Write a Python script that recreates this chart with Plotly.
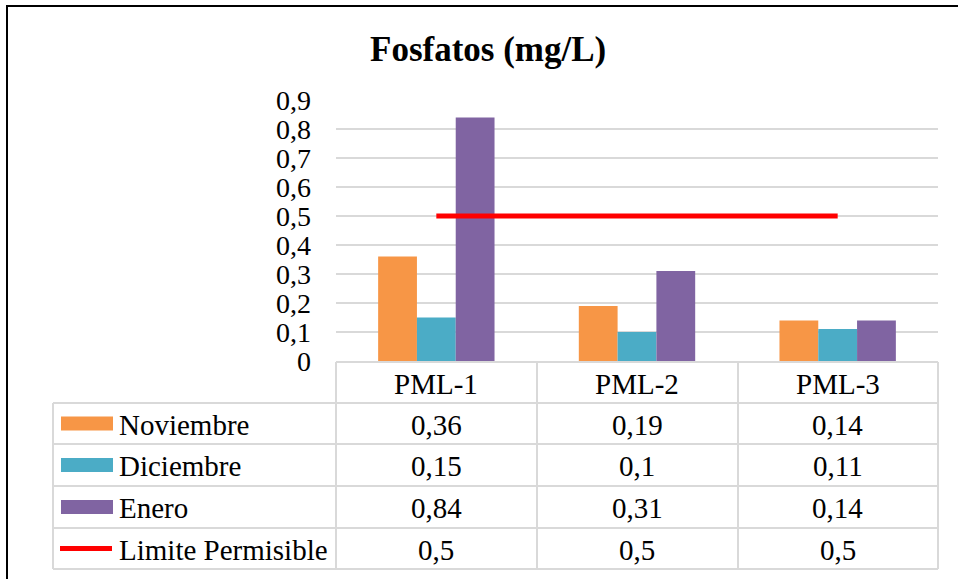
import plotly.graph_objects as go

categories = ["PML-1", "PML-2", "PML-3"]
noviembre = [0.36, 0.19, 0.14]
diciembre = [0.15, 0.10, 0.11]
enero = [0.84, 0.31, 0.14]
limite = [0.5, 0.5, 0.5]
series_names = ["Noviembre", "Diciembre", "Enero", "Limite Permisible"]
y_ticks = [0, 0.1, 0.2, 0.3, 0.4, 0.5, 0.6, 0.7, 0.8, 0.9]
title_text = "Fosfatos (mg/L)"

W, H = 958, 579
colors = ["#F79646", "#4BACC6", "#8064A2", "#FF0000"]
FONT = "Liberation Serif, Times New Roman, serif"
GRID = "#D9D9D9"

def px(x):
    return x / W

def py(y):
    return 1 - y / H

plot_l, plot_r = 336, 938
plot_t, plot_b = 100, 361

fig = go.Figure()
for name, vals, c in zip(series_names[:3], [noviembre, diciembre, enero], colors[:3]):
    fig.add_trace(go.Bar(x=categories, y=vals, name=name, marker_color=c,
                         marker_line_width=0, showlegend=False))
fig.add_trace(go.Scatter(x=categories, y=limite, mode="lines", name=series_names[3],
                         line=dict(color=colors[3], width=5), showlegend=False))

shapes = []
# outer black border (only left/top visible)
shapes.append(dict(type="rect", xref="paper", yref="paper",
                   x0=px(7), x1=px(W + 20), y0=py(H + 20), y1=py(6),
                   line=dict(color="black", width=2)))

# table grid
row_y = [403, 444, 486, 528, 569]
col_x = [336, 537, 738, 938]
lw = 2
shapes.append(dict(type="line", xref="paper", yref="paper", x0=px(336), x1=px(938),
                   y0=py(362), y1=py(362), line=dict(color=GRID, width=lw)))
for y in row_y:
    shapes.append(dict(type="line", xref="paper", yref="paper", x0=px(53), x1=px(938),
                       y0=py(y), y1=py(y), line=dict(color=GRID, width=lw)))
for x in col_x:
    shapes.append(dict(type="line", xref="paper", yref="paper", x0=px(x), x1=px(x),
                       y0=py(362), y1=py(569), line=dict(color=GRID, width=lw)))
shapes.append(dict(type="line", xref="paper", yref="paper", x0=px(53), x1=px(53),
                   y0=py(403), y1=py(569), line=dict(color=GRID, width=lw)))

annotations = []
annotations.append(dict(text="<b>" + title_text + "</b>", xref="paper", yref="paper",
                        x=px(488), y=py(49), showarrow=False,
                        font=dict(family=FONT, size=35, color="black"),
                        xanchor="center", yanchor="middle"))

for c in categories:
    annotations.append(dict(text=c, xref="x", yref="paper", x=c, y=py(384),
                            showarrow=False, font=dict(family=FONT, size=29, color="black"),
                            xanchor="center", yanchor="middle"))

def fmt(v):
    return ("%g" % v).replace(".", ",")

row_centers = [(row_y[i] + row_y[i + 1]) / 2 for i in range(4)]
all_vals = [noviembre, diciembre, enero, limite]
for i, (name, vals) in enumerate(zip(series_names, all_vals)):
    yc = row_centers[i]
    annotations.append(dict(text=name, xref="paper", yref="paper", x=px(117), y=py(yc + 1),
                            showarrow=False, font=dict(family=FONT, size=29, color="black"),
                            xanchor="left", yanchor="middle"))
    for c, v in zip(categories, vals):
        annotations.append(dict(text=fmt(v), xref="x", yref="paper", x=c, y=py(yc + 1),
                                showarrow=False, font=dict(family=FONT, size=29, color="black"),
                                xanchor="center", yanchor="middle"))
    if i < 3:
        shapes.append(dict(type="rect", xref="paper", yref="paper",
                           x0=px(61), x1=px(113), y0=py(yc + 7), y1=py(yc - 7),
                           fillcolor=colors[i], line=dict(width=0)))
    else:
        shapes.append(dict(type="line", xref="paper", yref="paper",
                           x0=px(60), x1=px(112), y0=py(yc), y1=py(yc),
                           line=dict(color=colors[i], width=5)))

fig.update_layout(
    width=W, height=H,
    margin=dict(l=0, r=0, t=0, b=0, pad=0, autoexpand=False),
    paper_bgcolor="white", plot_bgcolor="white",
    separators=",.",
    barmode="group", bargap=0.42, bargroupgap=0,
    shapes=shapes, annotations=annotations,
    xaxis=dict(domain=[px(plot_l), px(plot_r)], range=[-0.5, 2.5],
               showticklabels=False, showgrid=False, zeroline=False, showline=False,
               automargin=False, fixedrange=True),
    yaxis=dict(domain=[py(plot_b), py(plot_t)], range=[0, 0.9],
               tickvals=y_ticks, showgrid=True, gridcolor=GRID, gridwidth=1.5,
               zeroline=False, showline=False, ticks="",
               tickfont=dict(family=FONT, size=28, color="black"),
               ticklabelstandoff=24, automargin=False, fixedrange=True),
)
fig.write_html("out.html")
